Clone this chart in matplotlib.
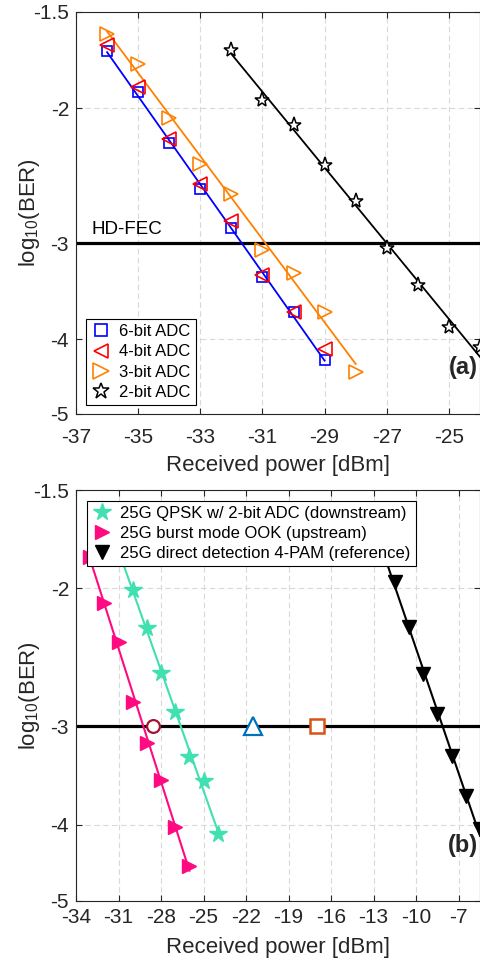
import numpy as np
import matplotlib
matplotlib.use("Agg")
import matplotlib.pyplot as plt

plt.rcParams['font.family'] = ['Liberation Sans', 'DejaVu Sans']
plt.rcParams['mathtext.fontset'] = 'custom'
plt.rcParams['mathtext.rm'] = 'Liberation Sans'
plt.rcParams['mathtext.it'] = 'Liberation Sans:italic'

# ---------------- data: panel (a) ----------------
x_6bit = [-36, -35, -34, -33, -32, -31, -30, -29]
ber_6bit = [-1.686, -1.906, -2.221, -2.546, -2.867, -3.314, -3.680, -4.254]
x_4bit = [-36, -35, -34, -33, -32, -31, -30, -29]
ber_4bit = [-1.657, -1.878, -2.196, -2.508, -2.803, -3.298, -3.687, -4.120]
x_3bit = [-36, -35, -34, -33, -32, -31, -30, -29, -28]
ber_3bit = [-1.601, -1.751, -2.061, -2.362, -2.584, -3.060, -3.276, -3.680, -4.410]
x_2bit = [-32, -31, -30, -29, -28, -27, -26, -25, -24]
ber_2bit = [-1.680, -1.954, -2.106, -2.374, -2.642, -3.039, -3.401, -3.853, -4.092]
labels_a = ['6-bit ADC', '4-bit ADC', '3-bit ADC', '2-bit ADC']
xticks_a = [-37, -35, -33, -31, -29, -27, -25]

# ---------------- data: panel (b) ----------------
x_qpsk = [-30, -29, -28, -27, -26, -25, -24]
ber_qpsk = [-2.011, -2.250, -2.567, -2.873, -3.280, -3.517, -4.113]
qpsk_fit_range = [-31, -24]
x_ook = [-33, -32, -31, -30, -29, -28, -27, -26]
ber_ook = [-1.827, -2.091, -2.341, -2.790, -3.152, -3.510, -4.033, -4.512]
ook_fit_range = [-33, -26]
x_pam = [-11.5, -10.5, -9.5, -8.5, -7.5, -6.5, -5.5]
ber_pam = [-1.963, -2.243, -2.573, -2.893, -3.273, -3.679, -4.056]
pam_fit_range = [-12.5, -5.5]
labels_b = ['25G QPSK w/ 2-bit ADC (downstream)', '25G burst mode OOK (upstream)',
            '25G direct detection 4-PAM (reference)']
sens_x = [-28.6, -21.5, -17.0]
sens_y = [-3, -3, -3]
xticks_b = [-34, -31, -28, -25, -22, -19, -16, -13, -10, -7]

hd_fec = -3
yticks = [-5, -4, -3, -2, -1.5]
yticklabels = ['-5', '-4', '-3', '-2', '-1.5']


def fwd(y):
    y = np.asarray(y, dtype=float)
    return -np.log10(np.maximum(-y, 1e-9))


def inv(u):
    return -np.power(10.0, -np.asarray(u, dtype=float))


def fit_line(x, y, rng):
    p = np.polyfit(np.asarray(x, float), fwd(y), 1)
    xs = np.linspace(rng[0], rng[1], 100)
    return xs, inv(np.polyval(p, xs))


fig = plt.figure(figsize=(4.81, 9.65), dpi=100)
W, H = 481.0, 965.0
ax1 = fig.add_axes([76 / W, 1 - 414 / H, 404 / W, 402 / H])
ax2 = fig.add_axes([76 / W, 1 - 900.7 / H, 404 / W, 410.7 / H])

spine_c = '#262626'
for ax in (ax1, ax2):
    ax.set_yscale('function', functions=(fwd, inv))
    ax.set_ylim(-5, -1.5)
    ax.set_yticks(yticks)
    ax.set_yticklabels(yticklabels)
    ax.grid(True, ls=(0, (5, 3)), color='#d9d9d9', lw=0.8)
    ax.set_axisbelow(True)
    for s in ax.spines.values():
        s.set_color(spine_c)
        s.set_linewidth(0.8)
    ax.tick_params(direction='in', length=4, width=0.8, color=spine_c,
                   top=True, right=True, labelsize=15, labelcolor='#262626')
    ax.tick_params(axis='y', pad=5)
    ax.axhline(hd_fec, color='k', lw=2.3, zorder=2)
    ax.set_xlabel('Received power [dBm]', fontsize=16, color='#262626')
    ax.set_ylabel(r'log$_{\mathrm{10}}$(BER)', fontsize=16, color='#262626')
    ax.yaxis.set_label_coords(-0.083, 0.5)

# ---------- panel (a) ----------
ax1.set_xlim(-37, -24)
ax1.set_xticks(xticks_a)
ax1.set_xticklabels([str(v) for v in xticks_a])
ax1.tick_params(axis='x', pad=10)
ax1.xaxis.labelpad = 6

for x, y, c in [(x_6bit, ber_6bit, '#0000FF'), (x_3bit, ber_3bit, '#FF8000'),
                (x_2bit, ber_2bit, 'k')]:
    xs, ys = fit_line(x, y, [x[0], x[-1]])
    ax1.plot(xs, ys, color=c, lw=1.3, zorder=3)

h1, = ax1.plot(x_6bit, ber_6bit, ls='none', marker='s', ms=7.4, mfc='none',
               mec='#0000FF', mew=1.2, zorder=4)
h2, = ax1.plot(x_4bit, ber_4bit, ls='none', marker='<', ms=9.5, mfc='none',
               mec='#FF0000', mew=1.2, zorder=4)
h3, = ax1.plot(x_3bit, ber_3bit, ls='none', marker='>', ms=10.5, mfc='none',
               mec='#FF8000', mew=1.2, zorder=4)
h4, = ax1.plot(x_2bit, ber_2bit, ls='none', marker='*', ms=11, mfc='white',
               mec='k', mew=1.1, zorder=4)
ax1.text(-36.5, -2.92, 'HD-FEC', fontsize=13.5, ha='left', va='baseline', color='k')
ax1.text(0.995, 0.115, '(a)', transform=ax1.transAxes, fontsize=17,
         fontweight='bold', ha='right', va='center', color='#262626')
leg1 = ax1.legend([h1, h2, h3, h4], labels_a, loc='lower left',
                  bbox_to_anchor=(0.025, 0.022), borderaxespad=0, fontsize=12,
                  frameon=True, fancybox=False, framealpha=1, edgecolor='k',
                  handlelength=1.2, handletextpad=0.5, labelspacing=0.32,
                  borderpad=0.3, markerscale=1.1)
leg1.get_frame().set_linewidth(0.8)

# ---------- panel (b) ----------
ax2.set_xlim(-34, -5.5)
ax2.set_xticks(xticks_b)
ax2.set_xticklabels([str(v) for v in xticks_b])
ax2.tick_params(axis='x', pad=5.5)
ax2.xaxis.labelpad = 7

for x, y, c, r in [(x_qpsk, ber_qpsk, '#40E0B0', qpsk_fit_range),
                   (x_ook, ber_ook, '#FF0A80', ook_fit_range),
                   (x_pam, ber_pam, 'k', pam_fit_range)]:
    xs, ys = fit_line(x, y, r)
    ax2.plot(xs, ys, color=c, lw=1.5, zorder=3)

g1, = ax2.plot(x_qpsk, ber_qpsk, ls='none', marker='*', ms=13, color='#40E0B0',
               mec='#40E0B0', zorder=4)
g2, = ax2.plot(x_ook, ber_ook, ls='none', marker='>', ms=10.5, color='#FF0A80',
               mec='#FF0A80', zorder=4)
g3, = ax2.plot(x_pam, ber_pam, ls='none', marker='v', ms=10.5, color='k',
               mec='k', zorder=4)
ax2.plot(sens_x[0], sens_y[0], ls='none', marker='o', ms=9.2, mfc='white',
         mec='#A2142F', mew=1.6, zorder=5)
ax2.plot(sens_x[1], sens_y[1], ls='none', marker='^', ms=12.5, mfc='white',
         mec='#0072BD', mew=1.6, zorder=5)
ax2.plot(sens_x[2], sens_y[2], ls='none', marker='s', ms=10, mfc='white',
         mec='#D95319', mew=1.8, zorder=5)
ax2.text(0.995, 0.135, '(b)', transform=ax2.transAxes, fontsize=17,
         fontweight='bold', ha='right', va='center', color='#262626')
leg2 = ax2.legend([g1, g2, g3], labels_b, loc='upper left',
                  bbox_to_anchor=(0.027, 0.974), borderaxespad=0, fontsize=12,
                  frameon=True, fancybox=False, framealpha=1, edgecolor='k',
                  handlelength=1.2, handletextpad=0.5, labelspacing=0.3,
                  borderpad=0.3)
leg2.get_frame().set_linewidth(0.8)
leg2.set_zorder(10)

fig.savefig('out.png', dpi=100)
